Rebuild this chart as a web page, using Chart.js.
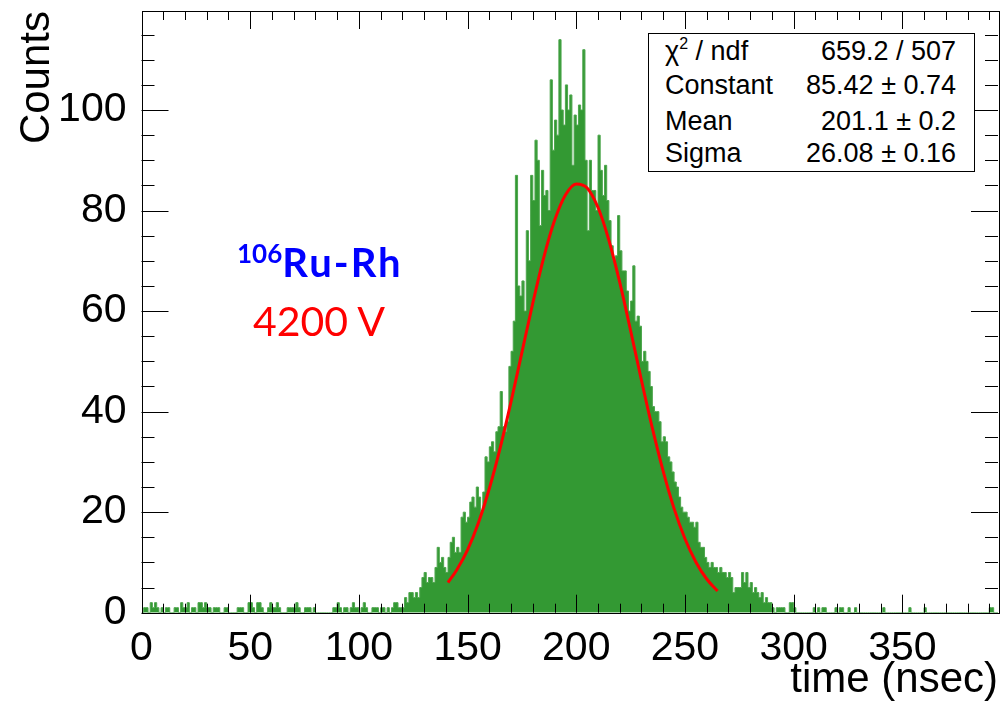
<!DOCTYPE html>
<html>
<head>
<meta charset="utf-8">
<title>time (nsec) histogram</title>
<script src="https://cdn.jsdelivr.net/npm/chart.js@4.4.0/dist/chart.umd.min.js"></script>
<style>
    html, body { margin: 0; padding: 0; background: #fff; }
    #wrap { position: relative; width: 1002px; height: 704px; overflow: hidden; }
    #chart { position: absolute; left: 0; top: 0; }
    .stats {
        position: absolute; left: 648px; top: 33px; width: 325px; height: 137px;
        border: 1px solid #000; background: #fff; color: #000;
        font-family: "Liberation Sans", Arial, sans-serif; font-size: 27px;
    }
    .row { position: absolute; left: 16px; right: 18px; height: 27px; line-height: 27px; white-space: nowrap; }
    .row .name { position: absolute; left: 0; top: 0; }
    .row .val { position: absolute; right: 0; top: 0; }
    .row sup { font-size: 16px; line-height: 0; vertical-align: 11px; }
    .source {
        position: absolute; left: 237px; top: 242px; line-height: 40px; white-space: nowrap;
        font-family: Lato, "Open Sans", sans-serif; font-weight: bold; font-size: 40px; color: #0000ff;
        letter-spacing: 2px;
    }
    .source sup { font-size: 26px; line-height: 0; vertical-align: 14px; letter-spacing: 0; }
    .voltage {
        position: absolute; left: 253px; top: 300px; line-height: 41px; white-space: nowrap;
        font-family: Lato, "Open Sans", sans-serif; font-size: 41px; color: #ff0000;
    }
</style>
</head>
<body>
<div id="wrap">
    <canvas id="chart" width="1002" height="704"></canvas>
    <div class="stats">
        <div class="row" style="top:4px"><span class="name">&chi;<sup>2</sup> / ndf</span><span class="val">659.2 / 507</span></div>
        <div class="row" style="top:38px"><span class="name">Constant</span><span class="val">85.42 &plusmn; 0.74</span></div>
        <div class="row" style="top:74px"><span class="name">Mean</span><span class="val">201.1 &plusmn; 0.2</span></div>
        <div class="row" style="top:106px"><span class="name">Sigma</span><span class="val">26.08 &plusmn; 0.16</span></div>
    </div>
    <div class="source"><sup>106</sup>Ru-Rh</div>
    <div class="voltage">4200 V</div>
</div>
<script>
    // histogram: 1 nsec bins starting at 0
    var binStart = 0;
    var binWidth = 1;
    var counts = [
        0, 0, 1, 1, 0, 2, 1, 2, 1, 0,
        1, 0, 1, 1, 0, 0, 1, 1, 0, 2,
        1, 1, 2, 0, 1, 1, 0, 2, 2, 1,
        2, 1, 1, 0, 1, 1, 1, 0, 0, 1,
        1, 0, 0, 0, 0, 1, 1, 1, 0, 0,
        2, 2, 1, 0, 2, 2, 1, 0, 0, 1,
        2, 1, 1, 2, 1, 0, 0, 0, 1, 1,
        1, 1, 2, 1, 0, 0, 1, 1, 1, 0,
        1, 0, 0, 0, 0, 0, 0, 0, 0, 1,
        1, 2, 1, 0, 1, 1, 0, 1, 2, 1,
        1, 0, 1, 2, 1, 0, 0, 1, 1, 1,
        0, 1, 1, 0, 1, 0, 1, 2, 2, 1,
        1, 1, 3, 2, 4, 4, 3, 4, 3, 5,
        7, 8, 6, 7, 7, 6, 9, 13, 10, 11,
        9, 8, 11, 14, 15, 12, 13, 12, 19, 20,
        18, 19, 22, 23, 21, 25, 23, 20, 24, 31,
        30, 33, 34, 32, 36, 37, 44, 37, 36, 38,
        49, 52, 58, 87, 65, 63, 66, 60, 76, 70,
        87, 82, 94, 90, 77, 88, 83, 84, 80, 106,
        92, 98, 95, 114, 100, 97, 105, 100, 103, 89,
        99, 97, 101, 100, 112, 90, 76, 90, 84, 84,
        80, 95, 88, 83, 89, 82, 78, 73, 70, 71,
        79, 72, 68, 68, 64, 60, 62, 69, 58, 59,
        57, 50, 52, 50, 48, 45, 41, 40, 40, 38,
        34, 35, 34, 31, 30, 28, 26, 25, 23, 21,
        20, 20, 19, 18, 18, 17, 18, 14, 13, 13,
        11, 10, 9, 10, 9, 9, 8, 9, 8, 8,
        7, 8, 7, 4, 5, 5, 5, 8, 6, 8,
        5, 6, 4, 5, 4, 3, 4, 2, 3, 2,
        2, 1, 0, 1, 1, 1, 1, 0, 0, 2,
        2, 1, 0, 0, 0, 0, 0, 0, 0, 0,
        1, 0, 1, 0, 1, 1, 0, 0, 0, 0,
        1, 0, 1, 1, 0, 0, 1, 0, 0, 1,
        0, 0, 0, 0, 0, 0, 0, 0, 0, 0,
        0, 0, 1, 0, 0, 0, 0, 0, 0, 0,
        0, 0, 0, 0, 1, 0, 0, 0, 0, 0,
        0, 1, 0, 0, 0, 0, 0, 0, 0, 0,
        0, 0, 0, 0, 0, 0, 0, 0, 0, 0,
        0, 0, 0, 0, 0, 0, 0, 0, 0, 0,
        0, 1, 1, 0
    ];

    // gaus fit curve
    var fitTimes = [141, 145, 150, 155, 160, 165, 170, 175, 180, 185, 190, 195, 200,
        205, 210, 215, 220, 225, 230, 235, 240, 245, 250, 255, 260, 265];
    var fitValues = [6.0, 8.5, 12.5, 17.9, 24.7, 32.8, 42.0, 51.8, 61.6, 70.6, 78.0, 83.1, 85.3,
        84.5, 80.6, 74.1, 65.7, 56.1, 46.2, 36.7, 28.1, 20.7, 14.7, 10.1, 6.7, 4.3];

    var xTicks = [0, 50, 100, 150, 200, 250, 300, 350];
    var yTicks = [0, 20, 40, 60, 80, 100];
    var xMax = 394;
    var yMax = 119.7;

    var histPoints = counts.map(function(c, i) {
        return {x: binStart + i * binWidth, y: c};
    });
    histPoints.push({x: binStart + counts.length * binWidth, y: counts[counts.length - 1]});

    var fitPoints = fitTimes.map(function(t, i) {
        return {x: t, y: fitValues[i]};
    });

    var axisFont = {family: '"Liberation Sans", Arial, sans-serif', size: 41};
    var titleFont = {family: '"Liberation Sans", Arial, sans-serif', size: 42, lineHeight: 1};

    // drop the label overflow padding so the frame sits where the original one does
    function noPadding(scale) {
        scale.paddingTop = 0;
        scale.paddingBottom = 0;
        scale.paddingLeft = 0;
        scale.paddingRight = 0;
    }

    // ROOT-like frame with inward ticks on all four sides
    var rootFrame = {
        id: 'rootFrame',
        afterDraw: function(chart) {
            var ctx = chart.ctx;
            var a = chart.chartArea;
            var xs = chart.scales.x;
            var ys = chart.scales.y;
            var t, v, p, len;
            ctx.save();
            ctx.strokeStyle = '#000';
            ctx.lineWidth = 1;
            ctx.beginPath();
            for (t = 0; t <= xMax; t += 10) {
                p = Math.round(xs.getPixelForValue(t)) + 0.5;
                len = (t % 50 === 0) ? 18 : 9;
                ctx.moveTo(p, a.bottom);
                ctx.lineTo(p, a.bottom - len);
                ctx.moveTo(p, a.top);
                ctx.lineTo(p, a.top + len);
            }
            for (v = 0; v <= yMax; v += 5) {
                p = Math.round(ys.getPixelForValue(v)) + 0.5;
                len = (v % 20 === 0) ? 27 : 13;
                ctx.moveTo(a.left, p);
                ctx.lineTo(a.left + len, p);
                ctx.moveTo(a.right, p);
                ctx.lineTo(a.right - len, p);
            }
            ctx.stroke();
            ctx.strokeRect(Math.round(a.left) + 0.5, Math.round(a.top) + 0.5,
                Math.round(a.right - a.left), Math.round(a.bottom - a.top));
            ctx.restore();
        }
    };

    new Chart(document.getElementById('chart'), {
        type: 'line',
        data: {
            datasets: [{
                label: 'gaus fit',
                data: fitPoints,
                order: 0,
                fill: false,
                borderColor: '#ff0000',
                borderWidth: 3,
                cubicInterpolationMode: 'monotone',
                pointRadius: 0
            }, {
                label: 'Counts',
                data: histPoints,
                order: 1,
                stepped: 'after',
                fill: 'origin',
                backgroundColor: '#339933',
                borderColor: '#4ea64e',
                borderWidth: 1,
                pointRadius: 0
            }]
        },
        options: {
            responsive: false,
            animation: false,
            devicePixelRatio: 1,
            layout: {autoPadding: false, padding: {top: 11, right: 4, left: 0, bottom: 0}},
            plugins: {
                legend: {display: false},
                tooltip: {enabled: false}
            },
            scales: {
                x: {
                    type: 'linear',
                    min: 0,
                    max: xMax,
                    grid: {display: false},
                    border: {display: false},
                    afterBuildTicks: function(scale) {
                        scale.ticks = xTicks.map(function(v) { return {value: v}; });
                    },
                    afterFit: function(scale) {
                        scale.height = 91.3;
                        noPadding(scale);
                    },
                    ticks: {
                        autoSkip: false, maxRotation: 0, minRotation: 0,
                        padding: 3, color: '#000', font: axisFont
                    },
                    title: {
                        display: true, text: 'time (nsec)', align: 'end', color: '#000',
                        font: titleFont, padding: {top: 0, bottom: 3}
                    }
                },
                y: {
                    type: 'linear',
                    min: 0,
                    max: yMax,
                    grid: {display: false},
                    border: {display: false},
                    afterBuildTicks: function(scale) {
                        scale.ticks = yTicks.map(function(v) { return {value: v}; });
                    },
                    afterFit: function(scale) {
                        scale.width = 141.5;
                        noPadding(scale);
                    },
                    ticks: {padding: 7, color: '#000', font: axisFont},
                    title: {
                        display: true, text: 'Counts', align: 'end', color: '#000',
                        font: titleFont, padding: {top: 16, bottom: 0}
                    }
                }
            }
        },
        plugins: [rootFrame]
    });
</script>
</body>
</html>
